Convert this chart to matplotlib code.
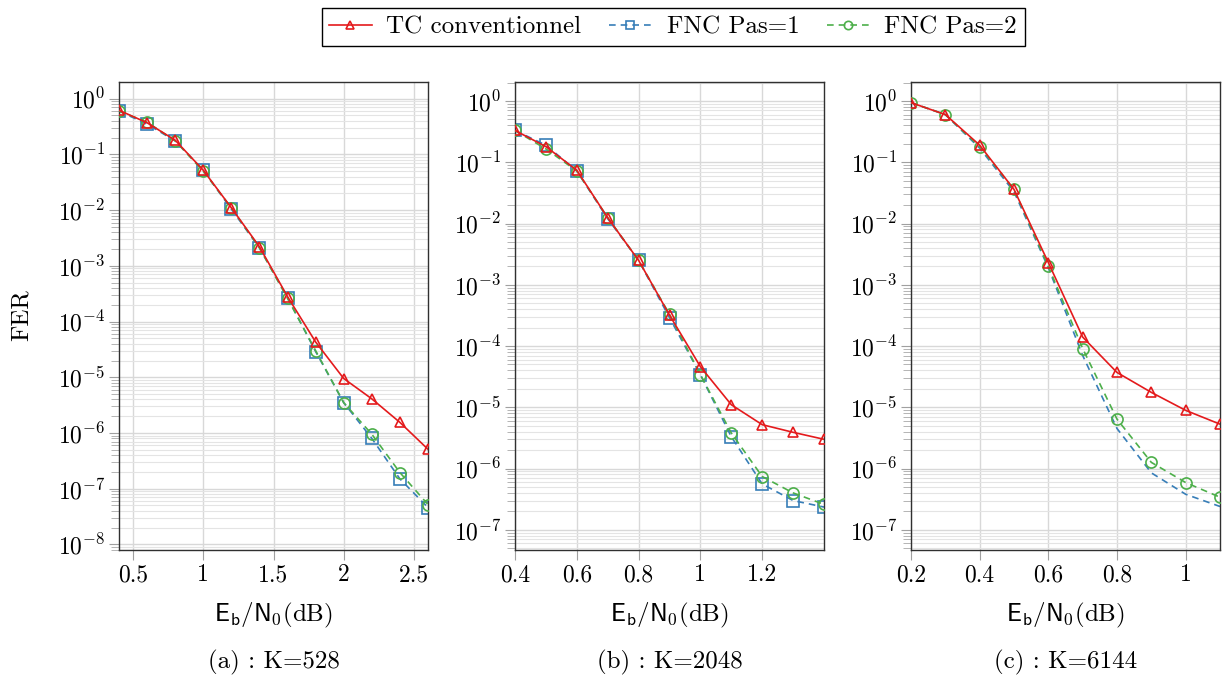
import numpy as np
import matplotlib
matplotlib.use("Agg")
import matplotlib.pyplot as plt
from matplotlib.ticker import LogLocator, FixedLocator, FuncFormatter, NullFormatter

plt.rcParams['font.family'] = ['cmr10', 'DejaVu Serif']
plt.rcParams['mathtext.fontset'] = 'cm'
plt.rcParams['axes.formatter.use_mathtext'] = True
plt.rcParams['axes.unicode_minus'] = False

# ---- data ----
# (a) K=528
x_a = [0.4, 0.6, 0.8, 1.0, 1.2, 1.4, 1.6, 1.8, 2.0, 2.2, 2.4, 2.6]
tc_a = [0.62, 0.37, 0.18, 0.052, 0.011, 0.0022, 2.8e-4, 4.3e-5, 9.5e-6, 4.1e-6, 1.55e-6, 5.1e-7]
p1_a = [0.6, 0.35, 0.175, 0.052, 0.0104, 0.0021, 2.7e-4, 2.9e-5, 3.5e-6, 8.0e-7, 1.5e-7, 4.6e-8]
p2_a = [0.6, 0.38, 0.175, 0.05, 0.011, 0.0021, 2.6e-4, 3.0e-5, 3.5e-6, 9.5e-7, 1.95e-7, 5.2e-8]

# (b) K=2048
x_b = [0.4, 0.5, 0.6, 0.7, 0.8, 0.9, 1.0, 1.1, 1.2, 1.3, 1.4]
tc_b = [0.33, 0.18, 0.074, 0.0124, 0.0025, 3.2e-4, 4.6e-5, 1.1e-5, 5.2e-6, 3.9e-6, 3.0e-6]
p1_b = [0.33, 0.19, 0.072, 0.012, 0.0025, 2.9e-4, 3.4e-5, 3.3e-6, 5.6e-7, 3.0e-7, 2.35e-7]
p2_b = [0.33, 0.165, 0.072, 0.0125, 0.0025, 3.3e-4, 3.4e-5, 3.8e-6, 7.4e-7, 4.0e-7, 2.6e-7]

# (c) K=6144
x_c = [0.2, 0.3, 0.4, 0.5, 0.6, 0.7, 0.8, 0.9, 1.0, 1.1]
tc_c = [0.94, 0.6, 0.19, 0.036, 0.0023, 1.4e-4, 3.7e-5, 1.75e-5, 8.9e-6, 5.3e-6]
p1_c = [0.94, 0.6, 0.17, 0.033, 0.0019, 7.0e-5, 4.5e-6, 8.5e-7, 3.8e-7, 2.4e-7]
p2_c = [0.94, 0.6, 0.18, 0.036, 0.002, 9.1e-5, 6.4e-6, 1.26e-6, 5.9e-7, 3.4e-7]

panels = [
    dict(x=x_a, tc=tc_a, p1=p1_a, p2=p2_a, xlim=(0.4, 2.6), xticks=[0.5, 1, 1.5, 2, 2.5],
         ylim=(10**-8.1, 10**0.3), title='(a) : K=528', p1_markers=True),
    dict(x=x_b, tc=tc_b, p1=p1_b, p2=p2_b, xlim=(0.4, 1.4), xticks=[0.4, 0.6, 0.8, 1, 1.2],
         ylim=(10**-7.33, 10**0.31), title='(b) : K=2048', p1_markers=True),
    dict(x=x_c, tc=tc_c, p1=p1_c, p2=p2_c, xlim=(0.2, 1.1), xticks=[0.2, 0.4, 0.6, 0.8, 1],
         ylim=(10**-7.33, 10**0.31), title='(c) : K=6144', p1_markers=False),
]

red = '#e41a1c'
blue = '#377eb8'
green = '#4daf4a'

fig = plt.figure(figsize=(12.24, 6.8), dpi=100)
lefts = [119/1224, 515/1224, 911/1224]
width = 309/1224
bottom = 1 - 550/680
height = (550 - 82)/680

handles = None
for i, p in enumerate(panels):
    ax = fig.add_axes([lefts[i], bottom, width, height])
    ax.set_yscale('log')
    l1, = ax.plot(p['x'], p['tc'], '-', color=red, lw=1.2, marker='^', ms=7.5,
                  mfc='none', mec=red, mew=1.2, zorder=4)
    l2, = ax.plot(p['x'], p['p1'], '--', color=blue, lw=1.2,
                  marker='s' if p['p1_markers'] else None, ms=8,
                  mfc='none', mec=blue, mew=1.2, dashes=(4, 3), zorder=2)
    l3, = ax.plot(p['x'], p['p2'], '--', color=green, lw=1.2, marker='o', ms=8,
                  mfc='none', mec=green, mew=1.2, dashes=(4, 3), zorder=3)
    if handles is None:
        handles = [l1, l2, l3]
    ax.set_xlim(*p['xlim'])
    ax.set_ylim(*p['ylim'])
    ax.xaxis.set_major_locator(FixedLocator(p['xticks']))
    ax.xaxis.set_major_formatter(FuncFormatter(lambda v, pos: '%g' % v))
    ax.yaxis.set_major_locator(LogLocator(base=10, numticks=20))
    ax.yaxis.set_minor_locator(LogLocator(base=10, subs=np.arange(2, 10), numticks=20))
    ax.yaxis.set_minor_formatter(NullFormatter())
    ax.grid(True, which='major', color='#d8d8d8', lw=1.0)
    ax.grid(True, which='minor', axis='y', color='#e4e4e4', lw=0.8)
    ax.set_axisbelow(True)
    for s in ax.spines.values():
        s.set_color('#303030')
        s.set_linewidth(1.0)
    ax.tick_params(which='major', direction='out', length=7, color='#a0a0a0',
                   labelsize=17, pad=3)
    ax.tick_params(which='minor', direction='out', length=6, color='#a8a8a8')
    ax.set_xlabel(r'$\mathsf{E}_\mathsf{b}/\mathsf{N}_0$(dB)', fontsize=18)
    ax.xaxis.set_label_coords(0.5, -(601 - 550)/468)
    if i == 0:
        ax.set_ylabel('FER', fontsize=18)
        ax.yaxis.set_label_coords((33 - 119)/309, (550 - 315)/468)
    ax.text(0.5, -(662 - 550)/468, p['title'], transform=ax.transAxes,
            ha='center', va='center', fontsize=18)

fig.legend(handles, ['TC conventionnel', 'FNC Pas=1', 'FNC Pas=2'],
           loc='center', bbox_to_anchor=(673/1224, 1 - 27/680), ncol=3,
           fontsize=18, frameon=True, fancybox=False, edgecolor='black',
           framealpha=1, handlelength=1.7, handletextpad=0.6, columnspacing=1.1,
           borderpad=0.3, markerscale=0.75)

fig.savefig('out.png', dpi=100)
